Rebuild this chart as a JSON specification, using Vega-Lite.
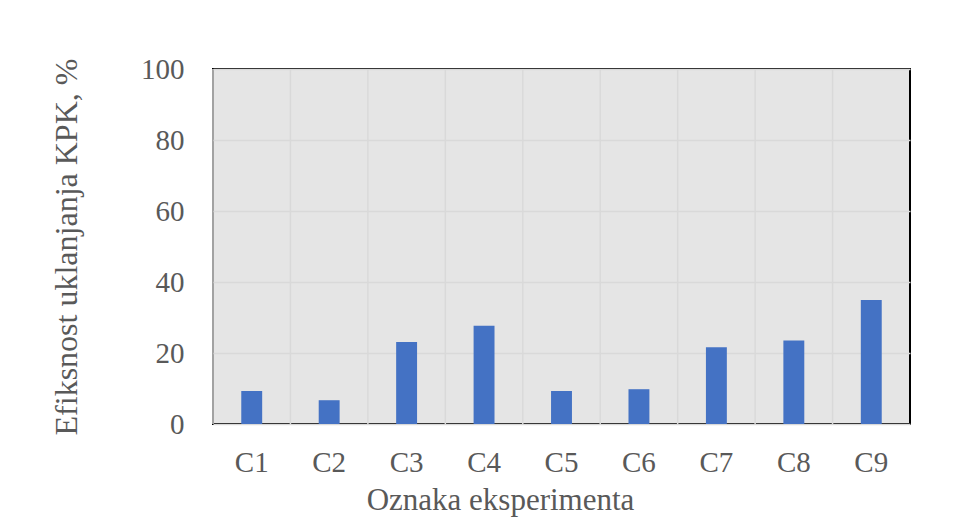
{
  "$schema": "https://vega.github.io/schema/vega-lite/v6.json",
  "autosize": "none",
  "width": 697,
  "height": 355,
  "padding": {"left": 213, "top": 69, "right": 51, "bottom": 100},
  "background": "white",
  "data": {"values": [
    {"exp": "C1", "eff": 9.3},
    {"exp": "C2", "eff": 6.7},
    {"exp": "C3", "eff": 23.1},
    {"exp": "C4", "eff": 27.7},
    {"exp": "C5", "eff": 9.3},
    {"exp": "C6", "eff": 9.8},
    {"exp": "C7", "eff": 21.6},
    {"exp": "C8", "eff": 23.5},
    {"exp": "C9", "eff": 34.9}
  ]},
  "encoding": {
    "x": {
      "field": "exp", "type": "nominal", "sort": null,
      "scale": {"paddingInner": 0, "paddingOuter": 0},
      "axis": {
        "title": "Oznaka eksperimenta", "labelAngle": 0, "ticks": false, "domain": false,
        "grid": false, "labelPadding": 24, "titlePadding": 8,
        "titleX": 287, "titleFontSize": 31
      }
    }
  },
  "layer": [
    {
      "mark": {"type": "rule", "color": "#d9d9d9", "strokeWidth": 1.5},
      "encoding": {
        "x": {"field": "exp", "type": "nominal", "sort": null, "bandPosition": 0}
      }
    },
    {
      "mark": {"type": "bar", "color": "#4472c4", "width": {"band": 0.27}},
      "encoding": {
        "y": {
          "field": "eff", "type": "quantitative",
          "scale": {"domain": [0, 100], "nice": false},
          "axis": {
            "title": "Efiksnost uklanjanja KPK, %", "values": [0, 20, 40, 60, 80, 100],
            "ticks": false, "domain": false, "grid": true, "gridColor": "#d9d9d9", "gridWidth": 1.5,
            "labelPadding": 29, "titlePadding": 57
          }
        }
      }
    }
  ],
  "config": {
    "view": {"fill": "#e5e5e5", "stroke": "#000000", "strokeWidth": 2},
    "axis": {
      "labelFont": "Liberation Serif", "titleFont": "Liberation Serif",
      "labelFontSize": 29, "titleFontSize": 32,
      "labelColor": "#595959", "titleColor": "#595959",
      "titleFontWeight": "normal"
    }
  }
}
